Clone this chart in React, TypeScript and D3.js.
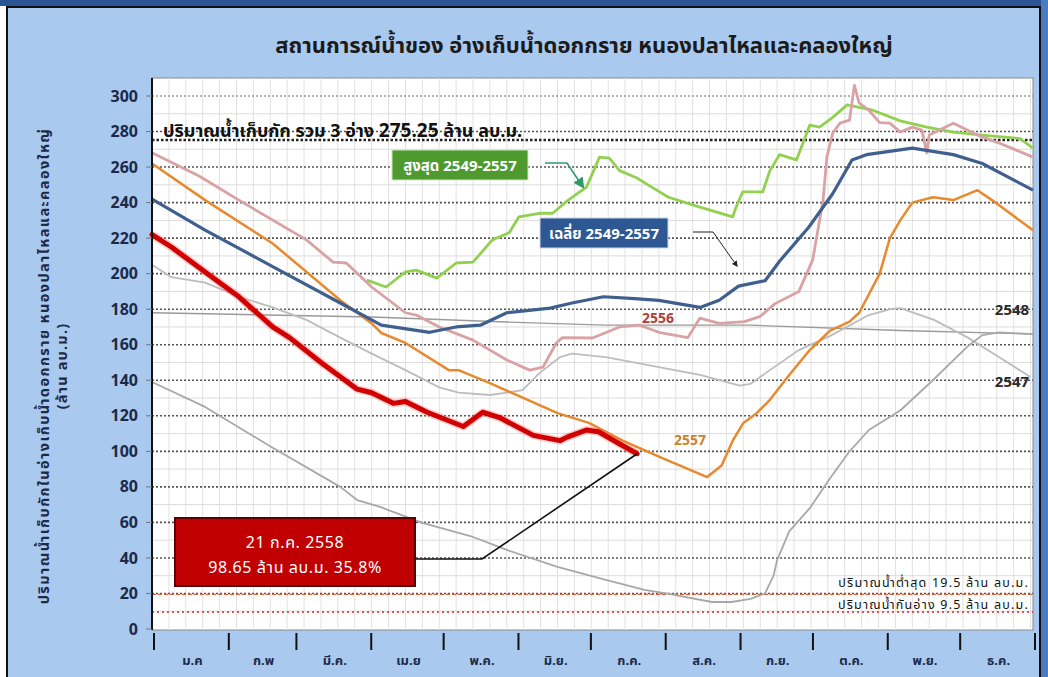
import React from 'react';
import * as d3 from 'd3';

// ---------- data ----------
const MONTH_LABELS = ['ม.ค', 'ก.พ', 'มี.ค.', 'เม.ย', 'พ.ค.', 'มิ.ย.', 'ก.ค.', 'ส.ค.', 'ก.ย.', 'ต.ค.', 'พ.ย.', 'ธ.ค.'];
const MONTH_STARTS = [0, 31, 59, 90, 120, 151, 181, 212, 243, 273, 304, 334, 365];
const Y_TICKS = [0, 20, 40, 60, 80, 100, 120, 140, 160, 180, 200, 220, 240, 260, 280, 300];

// 2558 (current year) – day of year / million m3
const Y2558_DAYS = [0, 8, 22, 36, 50, 57, 70, 85, 91, 100, 105, 114, 129, 137, 144, 158, 169, 172, 180, 185, 194, 201];
const Y2558_VALS = [222, 215, 201, 187, 170, 164, 150, 135, 133, 127, 128, 122, 114, 122, 119, 109, 106, 108, 112, 111, 104, 98.65];

// average 2549-2557
const AVG_DAYS = [0, 22, 50, 78, 95, 115, 126, 136, 147, 165, 174, 187, 200, 210, 227, 235, 243, 254, 260, 272, 282, 290, 296, 315, 332, 344, 365];
const AVG_VALS = [242, 224.5, 204, 183.5, 171, 167, 170, 171, 178, 180.6, 183.5, 187, 186, 185, 181, 185, 193, 196, 207, 226, 245, 264, 267, 270.7, 267, 262, 247];

// maximum 2549-2557
const MAX_DAYS = [89, 97, 105, 109.5, 118, 126, 133, 141, 148, 152, 160.5, 166, 172, 180, 185.4, 189.5, 193.7, 200.7, 207, 214, 227, 240.6, 242, 244.7, 253, 256, 260, 267, 272.5, 276.6, 282, 288, 298.6, 310, 321, 332, 344, 359.6, 365];
const MAX_VALS = [196.4, 192.5, 201, 202, 197.5, 206, 206.5, 219, 223, 232, 234, 234, 241, 248.7, 265.6, 265, 258, 254, 248.7, 243, 237.5, 232, 237.5, 246, 246, 258, 267, 264, 283.6, 282.5, 288, 295, 292, 286, 282.5, 279.7, 278, 276, 270.7];

// 2557
const Y2557_DAYS = [0, 22, 50, 78, 91, 95, 105, 123, 127, 140, 168, 181, 195, 210, 230, 236, 240.6, 245, 250.5, 256, 264, 272.5, 281, 289, 293, 301.5, 305.7, 310, 315, 323.5, 332, 342, 348, 365];
const Y2557_VALS = [262, 241.4, 217, 185, 172, 166.6, 161, 145.7, 145.7, 138.4, 121.5, 116, 106, 97, 85.5, 92, 106, 116, 121.5, 129, 143, 157, 168, 173, 178, 200, 220, 230, 240, 243, 241.4, 247, 241.4, 224.5];

// 2556
const Y2556_DAYS = [0, 19.5, 36, 64, 75, 80.5, 91, 105, 109.5, 119, 133, 147, 156.5, 162, 167.5, 170, 182.5, 193.7, 202, 210, 222, 227, 235, 245.5, 252, 258, 268, 273.7, 278, 279.6, 282, 285, 289, 291, 293, 297, 301.5, 305.7, 310, 315, 319, 321, 322, 332, 342, 351, 365];
const Y2556_VALS = [268, 255, 241.4, 219, 206.5, 206, 192.5, 178, 176.7, 170, 162.6, 151.4, 145.7, 147.4, 161, 164, 163.8, 170, 171, 167, 164, 175, 172, 173, 176, 183, 190, 207.6, 241, 265.6, 279, 284.7, 286.4, 306, 296, 292, 285, 284.7, 279.7, 282.5, 280.8, 268, 278, 284.7, 278, 273.5, 265.6];

// 2547
const Y2547_DAYS = [0, 8, 22, 36, 50, 64, 78, 91, 105, 119, 127, 140, 147, 153.5, 160.5, 169, 174, 188, 210, 227, 243.5, 248, 256, 268, 281, 297, 306, 310, 324, 338, 351, 364];
const Y2547_VALS = [205, 198, 195, 187, 181, 174, 164, 155, 145.7, 136, 133, 131.7, 133, 134.5, 144, 153, 155, 153, 147.4, 143, 137, 138, 145.7, 157, 165, 176.7, 180, 180.6, 174, 164, 153, 141.8];

// 2548
const Y2548_DAYS = [0, 22, 50, 78, 85, 94.5, 112, 133, 147, 168, 188, 204, 213, 232, 240, 248, 254, 257.5, 259, 264, 272.5, 281, 289, 297, 310, 323.5, 337.6, 344, 351, 365];
const Y2548_VALS = [139, 125, 102, 80, 72.6, 68.7, 59.7, 51.8, 44.5, 35, 27.6, 22, 20, 15.2, 15.2, 17, 20, 30, 38.8, 55, 68, 85, 100, 112, 123, 140, 158.7, 165.4, 167, 166];

// near-flat gray reference line
const FLAT_DAYS = [0, 91, 147, 188, 248, 310, 365];
const FLAT_VALS = [178, 175.6, 172.8, 171, 171, 168, 166];

const CAPACITY = 275.25;
const MIN_LEVEL = 19.5;
const DEAD_LEVEL = 9.5;
const CURRENT_DAY = 201;
const CURRENT_VAL = 98.65;

const FONT = "Tahoma, 'Noto Sans Thai', 'Noto Sans', 'DejaVu Sans', sans-serif";

type Pt = { d: number; v: number };
const zip = (ds: number[], vs: number[]): Pt[] => ds.map((d, i) => ({ d, v: vs[i] }));

export default function App() {
  const W = 1048;
  const H = 677;
  const plot = { left: 152, right: 1033, top: 78, bottom: 630 };
  const x = d3.scaleLinear().domain([0, 365]).range([plot.left, plot.right]);
  const y = d3.scaleLinear().domain([0, 300]).range([629, 96]);
  const line = d3
    .line<Pt>()
    .x((p) => x(p.d))
    .y((p) => y(p.v))
    .curve(d3.curveLinear);

  const minorH = d3.range(10, 300, 20);
  const minorV = d3.range(7, 365, 7);

  const series = [
    { data: zip(FLAT_DAYS, FLAT_VALS), color: '#9a9a9a', w: 1.3 },
    { data: zip(Y2547_DAYS, Y2547_VALS), color: '#bdbdbd', w: 1.8 },
    { data: zip(Y2548_DAYS, Y2548_VALS), color: '#a8a8a8', w: 1.8 },
    { data: zip(MAX_DAYS, MAX_VALS), color: '#92d050', w: 2.8 },
    { data: zip(Y2556_DAYS, Y2556_VALS), color: '#d9a2a4', w: 2.8 },
    { data: zip(Y2557_DAYS, Y2557_VALS), color: '#e8892e', w: 2.5 },
    { data: zip(AVG_DAYS, AVG_VALS), color: '#3f5f8e', w: 3.2 },
  ];
  const redData = zip(Y2558_DAYS, Y2558_VALS);

  const endX = x(CURRENT_DAY);
  const endY = y(CURRENT_VAL);

  return (
    <svg
      width={W}
      height={H}
      style={{ position: 'absolute', left: 0, top: 0, display: 'block' }}
      fontFamily={FONT}
    >
      <defs>
        <marker id="arrG" viewBox="0 0 10 10" refX="8" refY="5" markerWidth="7" markerHeight="7" orient="auto">
          <path d="M0,0 L10,5 L0,10 z" fill="#2f9a6a" />
        </marker>
        <marker id="arrK" viewBox="0 0 10 10" refX="8" refY="5" markerWidth="6" markerHeight="6" orient="auto">
          <path d="M0,0 L10,5 L0,10 z" fill="#222" />
        </marker>
      </defs>
      {/* page background */}
      <rect x={0} y={0} width={W} height={H} fill="#ffffff" />
      <rect x={0} y={0} width={W} height={6} fill="#2b5494" />
      <rect x={1041} y={0} width={7} height={H} fill="#4a7cc4" />
      <rect x={7} y={7} width={1033} height={H} fill="#a9c9ee" stroke="#111" strokeWidth={2} />

      {/* title */}
      <text x={584} y={53} textAnchor="middle" fontSize={22} fontWeight="bold" fill="#1b1b1b">
        สถานการณ์น้ำของ อ่างเก็บน้ำดอกกราย หนองปลาไหลและคลองใหญ่
      </text>

      {/* plot area */}
      <rect x={plot.left} y={plot.top} width={plot.right - plot.left} height={plot.bottom - plot.top} fill="#ffffff" stroke="#8a8a8a" strokeWidth={1} />

      {/* minor grid */}
      {minorV.map((d) => (
        <line key={'v' + d} x1={x(d)} x2={x(d)} y1={plot.top} y2={plot.bottom} stroke="#e1e1e1" strokeWidth={1} />
      ))}
      {minorH.map((v) => (
        <line key={'h' + v} x1={plot.left} x2={plot.right} y1={y(v)} y2={y(v)} stroke="#dcdcdc" strokeWidth={1} />
      ))}
      {/* major grid */}
      {Y_TICKS.filter((v) => v > 0).map((v) => (
        <line key={'g' + v} x1={plot.left} x2={plot.right} y1={y(v)} y2={y(v)} stroke={v === 300 ? '#9a9a9a' : '#555'} strokeWidth={1.6} strokeDasharray="2,2" />
      ))}

      {/* capacity line */}
      <line x1={plot.left} x2={plot.right} y1={y(CAPACITY)} y2={y(CAPACITY)} stroke="#222" strokeWidth={2.6} strokeDasharray="2.5,2" />
      <text x={163} y={y(CAPACITY) - 3} fontSize={18} fill="#111" fontWeight="bold">
        ปริมาณน้ำเก็บกัก รวม 3 อ่าง <tspan fontSize={19}>275.25</tspan> ล้าน ลบ.ม.
      </text>

      {/* min / dead storage lines */}
      <line x1={plot.left} x2={plot.right} y1={y(MIN_LEVEL)} y2={y(MIN_LEVEL)} stroke="#e0603a" strokeWidth={1.3} strokeDasharray="4,2" />
      <line x1={plot.left} x2={plot.right} y1={y(DEAD_LEVEL)} y2={y(DEAD_LEVEL)} stroke="#e02020" strokeWidth={1.5} strokeDasharray="2,3" />
      <text x={1029} y={y(MIN_LEVEL) - 7} textAnchor="end" fontSize={12.5} letterSpacing={1.2} fill="#111">
        ปริมาณน้ำต่ำสุด 19.5 ล้าน ลบ.ม.
      </text>
      <text x={1029} y={y(DEAD_LEVEL) - 3} textAnchor="end" fontSize={12.5} letterSpacing={1.2} fill="#111">
        ปริมาณน้ำกันอ่าง 9.5 ล้าน ลบ.ม.
      </text>

      {/* series */}
      {series.map((s, i) => (
        <path key={i} d={line(s.data) || ''} fill="none" stroke={s.color} strokeWidth={s.w} strokeLinejoin="round" />
      ))}
      <path d={line(redData) || ''} fill="none" stroke="#ff6a6a" strokeOpacity={0.35} strokeWidth={8} strokeLinejoin="round" />
      <path d={line(redData) || ''} fill="none" stroke="#d00000" strokeWidth={5} strokeLinejoin="round" strokeLinecap="round" />

      {/* series labels */}
      <text x={658} y={323} textAnchor="middle" fontSize={14} fontWeight="bold" fill="#b0403c">2556</text>
      <text x={690} y={445} textAnchor="middle" fontSize={14} fontWeight="bold" fill="#c9822e">2557</text>
      <text x={1012} y={315} textAnchor="middle" fontSize={15} fontWeight="bold" fill="#2a2a2a">2548</text>
      <text x={1012} y={387} textAnchor="middle" fontSize={15} fontWeight="bold" fill="#2a2a2a">2547</text>

      {/* max callout */}
      <rect x={392} y={150} width={136} height={30} fill="#4f9a2f" stroke="#cfe8c0" strokeWidth={1} />
      <text x={460} y={171} textAnchor="middle" fontSize={15} fontWeight="bold" fill="#ffffff">สูงสุด 2549-2557</text>
      <path d="M545,163 L567,163 L583,187" fill="none" stroke="#2f9a6a" strokeWidth={1.6} markerEnd="url(#arrG)" />

      {/* average callout */}
      <rect x={540} y={218} width={128} height={30} fill="#2e5893" stroke="#c8d6ea" strokeWidth={1} />
      <text x={604} y={239} textAnchor="middle" fontSize={15} fontWeight="bold" fill="#ffffff">เฉลี่ย 2549-2557</text>
      <path d="M693,232 L713,232 L737,266" fill="none" stroke="#222" strokeWidth={1} markerEnd="url(#arrK)" />

      {/* current value callout */}
      <path d={`M415,559 L482,559 L${endX},${endY}`} fill="none" stroke="#111" strokeWidth={1.6} />
      <rect x={175} y={518} width={240} height={68} fill="#c00000" stroke="#5a0000" strokeWidth={2} />
      <text x={295} y={548} textAnchor="middle" fontSize={16} letterSpacing={0.6} fill="#ffffff">21 ก.ค. 2558</text>
      <text x={295} y={573} textAnchor="middle" fontSize={16} letterSpacing={0.6} fill="#ffffff">98.65 ล้าน ลบ.ม. 35.8%</text>

      {/* y axis */}
      <line x1={plot.left} x2={plot.left} y1={plot.top} y2={plot.bottom} stroke="#111" strokeWidth={2} />
      {Y_TICKS.map((v) => (
        <g key={'yt' + v}>
          <line x1={plot.left - 6} x2={plot.left} y1={y(v)} y2={y(v)} stroke="#777" strokeWidth={1} />
          <text x={138} y={y(v)} dy="0.35em" textAnchor="end" fontSize={16} fontWeight="bold" fill="#1c2a48">
            {v}
          </text>
        </g>
      ))}
      <text transform="translate(49,366) rotate(-90)" textAnchor="middle" fontSize={14.5} letterSpacing={1.4} fontWeight="bold" fill="#1c2a48">
        ปริมาณน้ำเก็บกักในอ่างเก็บน้ำดอกกราย หนองปลาไหลและคลองใหญ่
      </text>
      <text transform="translate(67,366) rotate(-90)" textAnchor="middle" fontSize={14.5} letterSpacing={1.2} fontWeight="bold" fill="#1c2a48">
        (ล้าน ลบ.ม.)
      </text>

      {/* month axis */}
      {MONTH_STARTS.map((d) => (
        <line key={'mt' + d} x1={x(d) + 2} x2={x(d) + 2} y1={633} y2={650} stroke="#111" strokeWidth={2} />
      ))}
      {MONTH_LABELS.map((m, i) => (
        <text key={m} x={x((MONTH_STARTS[i] + MONTH_STARTS[i + 1]) / 2) + 3} y={665} textAnchor="middle" fontSize={13} fontWeight="bold" fill="#1c2a48">
          {m}
        </text>
      ))}
    </svg>
  );
}
